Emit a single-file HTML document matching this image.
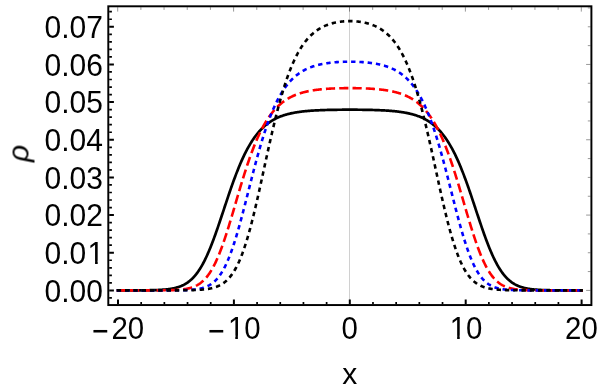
<!DOCTYPE html>
<html><head><meta charset="utf-8"><title>plot</title>
<style>html,body{margin:0;padding:0;background:#fff}svg{display:block}text{font-family:"Liberation Sans",sans-serif;font-size:30px;fill:#000}</style></head>
<body>
<svg width="600" height="392" viewBox="0 0 600 392">
<rect width="600" height="392" fill="#fff"/>
<line x1="349.50" y1="6.30" x2="349.50" y2="305.05" stroke="#b0b0b0" stroke-width="0.6"/>
<g fill="none" stroke-linejoin="round">
<path d="M116.70 290.39 L118.00 290.39 L118.58 290.39 L119.16 290.39 L119.74 290.39 L120.32 290.39 L120.90 290.39 L121.48 290.39 L122.06 290.39 L122.64 290.39 L123.22 290.39 L123.80 290.39 L124.37 290.39 L124.95 290.39 L125.53 290.39 L126.11 290.39 L126.69 290.39 L127.27 290.38 L127.85 290.38 L128.43 290.38 L129.01 290.38 L129.59 290.38 L130.17 290.38 L130.75 290.38 L131.33 290.38 L131.91 290.37 L132.49 290.37 L133.07 290.37 L133.65 290.37 L134.23 290.37 L134.81 290.37 L135.39 290.36 L135.96 290.36 L136.54 290.36 L137.12 290.36 L137.70 290.35 L138.28 290.35 L138.86 290.35 L139.44 290.34 L140.02 290.34 L140.60 290.33 L141.18 290.33 L141.76 290.33 L142.34 290.32 L142.92 290.32 L143.50 290.31 L144.08 290.30 L144.66 290.30 L145.24 290.29 L145.82 290.28 L146.40 290.28 L146.98 290.27 L147.55 290.26 L148.13 290.25 L148.71 290.24 L149.29 290.23 L149.87 290.22 L150.45 290.21 L151.03 290.20 L151.61 290.19 L152.19 290.17 L152.77 290.16 L153.35 290.14 L153.93 290.12 L154.51 290.11 L155.09 290.09 L155.67 290.07 L156.25 290.05 L156.83 290.03 L157.41 290.00 L157.99 289.98 L158.57 289.95 L159.14 289.92 L159.72 289.89 L160.30 289.86 L160.88 289.83 L161.46 289.79 L162.04 289.75 L162.62 289.71 L163.20 289.67 L163.78 289.62 L164.36 289.57 L164.94 289.52 L165.52 289.47 L166.10 289.41 L166.68 289.35 L167.26 289.29 L167.84 289.22 L168.42 289.15 L169.00 289.07 L169.58 288.99 L170.16 288.91 L170.73 288.82 L171.31 288.72 L171.89 288.62 L172.47 288.51 L173.05 288.40 L173.63 288.28 L174.21 288.16 L174.79 288.02 L175.37 287.89 L175.95 287.74 L176.53 287.58 L177.11 287.42 L177.69 287.25 L178.27 287.07 L178.85 286.88 L179.43 286.67 L180.01 286.46 L180.59 286.24 L181.17 286.01 L181.75 285.76 L182.32 285.50 L182.90 285.23 L183.48 284.95 L184.06 284.65 L184.64 284.34 L185.22 284.01 L185.80 283.66 L186.38 283.30 L186.96 282.93 L187.54 282.53 L188.12 282.12 L188.70 281.69 L189.28 281.24 L189.86 280.77 L190.44 280.28 L191.02 279.77 L191.60 279.24 L192.18 278.68 L192.76 278.10 L193.34 277.50 L193.91 276.88 L194.49 276.23 L195.07 275.55 L195.65 274.85 L196.23 274.13 L196.81 273.37 L197.39 272.59 L197.97 271.79 L198.55 270.95 L199.13 270.09 L199.71 269.20 L200.29 268.28 L200.87 267.33 L201.45 266.35 L202.03 265.34 L202.61 264.31 L203.19 263.24 L203.77 262.14 L204.35 261.02 L204.93 259.86 L205.50 258.68 L206.08 257.46 L206.66 256.22 L207.24 254.95 L207.82 253.65 L208.40 252.32 L208.98 250.96 L209.56 249.58 L210.14 248.17 L210.72 246.74 L211.30 245.28 L211.88 243.79 L212.46 242.29 L213.04 240.76 L213.62 239.21 L214.20 237.63 L214.78 236.04 L215.36 234.43 L215.94 232.80 L216.52 231.16 L217.09 229.49 L217.67 227.82 L218.25 226.13 L218.83 224.43 L219.41 222.72 L219.99 221.00 L220.57 219.27 L221.15 217.53 L221.73 215.79 L222.31 214.05 L222.89 212.30 L223.47 210.55 L224.05 208.80 L224.63 207.04 L225.21 205.30 L225.79 203.55 L226.37 201.81 L226.95 200.07 L227.53 198.34 L228.11 196.62 L228.68 194.91 L229.26 193.20 L229.84 191.51 L230.42 189.83 L231.00 188.16 L231.58 186.51 L232.16 184.87 L232.74 183.25 L233.32 181.64 L233.90 180.05 L234.48 178.47 L235.06 176.92 L235.64 175.38 L236.22 173.87 L236.80 172.37 L237.38 170.89 L237.96 169.44 L238.54 168.00 L239.12 166.59 L239.69 165.20 L240.27 163.83 L240.85 162.49 L241.43 161.16 L242.01 159.86 L242.59 158.59 L243.17 157.33 L243.75 156.10 L244.33 154.89 L244.91 153.71 L245.49 152.55 L246.07 151.41 L246.65 150.30 L247.23 149.21 L247.81 148.14 L248.39 147.09 L248.97 146.07 L249.55 145.07 L250.13 144.09 L250.71 143.13 L251.29 142.20 L251.86 141.29 L252.44 140.39 L253.02 139.52 L253.60 138.67 L254.18 137.85 L254.76 137.04 L255.34 136.25 L255.92 135.48 L256.50 134.73 L257.08 134.00 L257.66 133.28 L258.24 132.59 L258.82 131.91 L259.40 131.26 L259.98 130.61 L260.56 129.99 L261.14 129.38 L261.72 128.79 L262.30 128.22 L262.88 127.66 L263.45 127.11 L264.03 126.58 L264.61 126.07 L265.19 125.57 L265.77 125.08 L266.35 124.61 L266.93 124.15 L267.51 123.70 L268.09 123.27 L268.67 122.84 L269.25 122.43 L269.83 122.04 L270.41 121.65 L270.99 121.28 L271.57 120.91 L272.15 120.56 L272.73 120.21 L273.31 119.88 L273.89 119.56 L274.47 119.24 L275.04 118.94 L275.62 118.64 L276.20 118.36 L276.78 118.08 L277.36 117.81 L277.94 117.55 L278.52 117.29 L279.10 117.05 L279.68 116.81 L280.26 116.58 L280.84 116.35 L281.42 116.14 L282.00 115.92 L282.58 115.72 L283.16 115.52 L283.74 115.33 L284.32 115.14 L284.90 114.96 L285.48 114.79 L286.06 114.62 L286.63 114.45 L287.21 114.29 L287.79 114.14 L288.37 113.99 L288.95 113.85 L289.53 113.71 L290.11 113.57 L290.69 113.44 L291.27 113.31 L291.85 113.19 L292.43 113.07 L293.01 112.95 L293.59 112.84 L294.17 112.73 L294.75 112.63 L295.33 112.52 L295.91 112.42 L296.49 112.33 L297.07 112.24 L297.64 112.15 L298.22 112.06 L298.80 111.98 L299.38 111.89 L299.96 111.81 L300.54 111.74 L301.12 111.66 L301.70 111.59 L302.28 111.52 L302.86 111.46 L303.44 111.39 L304.02 111.33 L304.60 111.27 L305.18 111.21 L305.76 111.15 L306.34 111.10 L306.92 111.04 L307.50 110.99 L308.08 110.94 L308.66 110.89 L309.24 110.85 L309.81 110.80 L310.39 110.76 L310.97 110.72 L311.55 110.68 L312.13 110.64 L312.71 110.60 L313.29 110.56 L313.87 110.52 L314.45 110.49 L315.03 110.46 L315.61 110.42 L316.19 110.39 L316.77 110.36 L317.35 110.33 L317.93 110.31 L318.51 110.28 L319.09 110.25 L319.67 110.23 L320.25 110.20 L320.82 110.18 L321.40 110.15 L321.98 110.13 L322.56 110.11 L323.14 110.09 L323.72 110.07 L324.30 110.05 L324.88 110.03 L325.46 110.02 L326.04 110.00 L326.62 109.98 L327.20 109.97 L327.78 109.95 L328.36 109.94 L328.94 109.92 L329.52 109.91 L330.10 109.89 L330.68 109.88 L331.26 109.87 L331.84 109.86 L332.42 109.85 L332.99 109.84 L333.57 109.83 L334.15 109.82 L334.73 109.81 L335.31 109.80 L335.89 109.79 L336.47 109.78 L337.05 109.78 L337.63 109.77 L338.21 109.76 L338.79 109.75 L339.37 109.75 L339.95 109.74 L340.53 109.74 L341.11 109.73 L341.69 109.73 L342.27 109.72 L342.85 109.72 L343.43 109.72 L344.00 109.71 L344.58 109.71 L345.16 109.71 L345.74 109.70 L346.32 109.70 L346.90 109.70 L347.48 109.70 L348.06 109.70 L348.64 109.70 L349.22 109.70 L349.80 109.70 L350.38 109.70 L350.96 109.70 L351.54 109.70 L352.12 109.70 L352.70 109.70 L353.28 109.70 L353.86 109.70 L354.44 109.71 L355.02 109.71 L355.60 109.71 L356.17 109.72 L356.75 109.72 L357.33 109.72 L357.91 109.73 L358.49 109.73 L359.07 109.74 L359.65 109.74 L360.23 109.75 L360.81 109.75 L361.39 109.76 L361.97 109.77 L362.55 109.78 L363.13 109.78 L363.71 109.79 L364.29 109.80 L364.87 109.81 L365.45 109.82 L366.03 109.83 L366.61 109.84 L367.19 109.85 L367.76 109.86 L368.34 109.87 L368.92 109.88 L369.50 109.89 L370.08 109.91 L370.66 109.92 L371.24 109.94 L371.82 109.95 L372.40 109.97 L372.98 109.98 L373.56 110.00 L374.14 110.02 L374.72 110.03 L375.30 110.05 L375.88 110.07 L376.46 110.09 L377.04 110.11 L377.62 110.13 L378.20 110.15 L378.78 110.18 L379.35 110.20 L379.93 110.23 L380.51 110.25 L381.09 110.28 L381.67 110.31 L382.25 110.33 L382.83 110.36 L383.41 110.39 L383.99 110.42 L384.57 110.46 L385.15 110.49 L385.73 110.52 L386.31 110.56 L386.89 110.60 L387.47 110.64 L388.05 110.68 L388.63 110.72 L389.21 110.76 L389.79 110.80 L390.37 110.85 L390.94 110.89 L391.52 110.94 L392.10 110.99 L392.68 111.04 L393.26 111.10 L393.84 111.15 L394.42 111.21 L395.00 111.27 L395.58 111.33 L396.16 111.39 L396.74 111.46 L397.32 111.52 L397.90 111.59 L398.48 111.66 L399.06 111.74 L399.64 111.81 L400.22 111.89 L400.80 111.98 L401.38 112.06 L401.96 112.15 L402.53 112.24 L403.11 112.33 L403.69 112.42 L404.27 112.52 L404.85 112.63 L405.43 112.73 L406.01 112.84 L406.59 112.95 L407.17 113.07 L407.75 113.19 L408.33 113.31 L408.91 113.44 L409.49 113.57 L410.07 113.71 L410.65 113.85 L411.23 113.99 L411.81 114.14 L412.39 114.29 L412.97 114.45 L413.55 114.62 L414.12 114.79 L414.70 114.96 L415.28 115.14 L415.86 115.33 L416.44 115.52 L417.02 115.72 L417.60 115.92 L418.18 116.14 L418.76 116.35 L419.34 116.58 L419.92 116.81 L420.50 117.05 L421.08 117.29 L421.66 117.55 L422.24 117.81 L422.82 118.08 L423.40 118.36 L423.98 118.64 L424.56 118.94 L425.13 119.24 L425.71 119.56 L426.29 119.88 L426.87 120.21 L427.45 120.56 L428.03 120.91 L428.61 121.28 L429.19 121.65 L429.77 122.04 L430.35 122.43 L430.93 122.84 L431.51 123.27 L432.09 123.70 L432.67 124.15 L433.25 124.61 L433.83 125.08 L434.41 125.57 L434.99 126.07 L435.57 126.58 L436.15 127.11 L436.73 127.66 L437.30 128.22 L437.88 128.79 L438.46 129.38 L439.04 129.99 L439.62 130.61 L440.20 131.26 L440.78 131.91 L441.36 132.59 L441.94 133.28 L442.52 134.00 L443.10 134.73 L443.68 135.48 L444.26 136.25 L444.84 137.04 L445.42 137.85 L446.00 138.67 L446.58 139.52 L447.16 140.39 L447.74 141.29 L448.31 142.20 L448.89 143.13 L449.47 144.09 L450.05 145.07 L450.63 146.07 L451.21 147.09 L451.79 148.14 L452.37 149.21 L452.95 150.30 L453.53 151.41 L454.11 152.55 L454.69 153.71 L455.27 154.89 L455.85 156.10 L456.43 157.33 L457.01 158.59 L457.59 159.86 L458.17 161.16 L458.75 162.49 L459.33 163.83 L459.91 165.20 L460.48 166.59 L461.06 168.00 L461.64 169.44 L462.22 170.89 L462.80 172.37 L463.38 173.87 L463.96 175.38 L464.54 176.92 L465.12 178.47 L465.70 180.05 L466.28 181.64 L466.86 183.25 L467.44 184.87 L468.02 186.51 L468.60 188.16 L469.18 189.83 L469.76 191.51 L470.34 193.20 L470.92 194.91 L471.50 196.62 L472.07 198.34 L472.65 200.07 L473.23 201.81 L473.81 203.55 L474.39 205.30 L474.97 207.04 L475.55 208.80 L476.13 210.55 L476.71 212.30 L477.29 214.05 L477.87 215.79 L478.45 217.53 L479.03 219.27 L479.61 221.00 L480.19 222.72 L480.77 224.43 L481.35 226.13 L481.93 227.82 L482.51 229.49 L483.09 231.16 L483.66 232.80 L484.24 234.43 L484.82 236.04 L485.40 237.63 L485.98 239.21 L486.56 240.76 L487.14 242.29 L487.72 243.79 L488.30 245.28 L488.88 246.74 L489.46 248.17 L490.04 249.58 L490.62 250.96 L491.20 252.32 L491.78 253.65 L492.36 254.95 L492.94 256.22 L493.52 257.46 L494.10 258.68 L494.68 259.86 L495.25 261.02 L495.83 262.14 L496.41 263.24 L496.99 264.31 L497.57 265.34 L498.15 266.35 L498.73 267.33 L499.31 268.28 L499.89 269.20 L500.47 270.09 L501.05 270.95 L501.63 271.79 L502.21 272.59 L502.79 273.37 L503.37 274.13 L503.95 274.85 L504.53 275.55 L505.11 276.23 L505.69 276.88 L506.26 277.50 L506.84 278.10 L507.42 278.68 L508.00 279.24 L508.58 279.77 L509.16 280.28 L509.74 280.77 L510.32 281.24 L510.90 281.69 L511.48 282.12 L512.06 282.53 L512.64 282.93 L513.22 283.30 L513.80 283.66 L514.38 284.01 L514.96 284.34 L515.54 284.65 L516.12 284.95 L516.70 285.23 L517.28 285.50 L517.86 285.76 L518.43 286.01 L519.01 286.24 L519.59 286.46 L520.17 286.67 L520.75 286.88 L521.33 287.07 L521.91 287.25 L522.49 287.42 L523.07 287.58 L523.65 287.74 L524.23 287.89 L524.81 288.02 L525.39 288.16 L525.97 288.28 L526.55 288.40 L527.13 288.51 L527.71 288.62 L528.29 288.72 L528.87 288.82 L529.45 288.91 L530.02 288.99 L530.60 289.07 L531.18 289.15 L531.76 289.22 L532.34 289.29 L532.92 289.35 L533.50 289.41 L534.08 289.47 L534.66 289.52 L535.24 289.57 L535.82 289.62 L536.40 289.67 L536.98 289.71 L537.56 289.75 L538.14 289.79 L538.72 289.83 L539.30 289.86 L539.88 289.89 L540.46 289.92 L541.03 289.95 L541.61 289.98 L542.19 290.00 L542.77 290.03 L543.35 290.05 L543.93 290.07 L544.51 290.09 L545.09 290.11 L545.67 290.12 L546.25 290.14 L546.83 290.16 L547.41 290.17 L547.99 290.19 L548.57 290.20 L549.15 290.21 L549.73 290.22 L550.31 290.23 L550.89 290.24 L551.47 290.25 L552.05 290.26 L552.62 290.27 L553.20 290.28 L553.78 290.28 L554.36 290.29 L554.94 290.30 L555.52 290.30 L556.10 290.31 L556.68 290.32 L557.26 290.32 L557.84 290.33 L558.42 290.33 L559.00 290.33 L559.58 290.34 L560.16 290.34 L560.74 290.35 L561.32 290.35 L561.90 290.35 L562.48 290.36 L563.06 290.36 L563.64 290.36 L564.22 290.36 L564.79 290.37 L565.37 290.37 L565.95 290.37 L566.53 290.37 L567.11 290.37 L567.69 290.37 L568.27 290.38 L568.85 290.38 L569.43 290.38 L570.01 290.38 L570.59 290.38 L571.17 290.38 L571.75 290.38 L572.33 290.38 L572.91 290.39 L573.49 290.39 L574.07 290.39 L574.65 290.39 L575.23 290.39 L575.81 290.39 L576.38 290.39 L576.96 290.39 L577.54 290.39 L578.12 290.39 L578.70 290.39 L579.28 290.39 L579.86 290.39 L580.44 290.39 L581.02 290.39 L581.60 290.39 L582.90 290.39" stroke="#000" stroke-width="2.7"/>
<path d="M116.70 290.40 L118.00 290.40 L118.58 290.40 L119.16 290.40 L119.74 290.40 L120.32 290.40 L120.90 290.40 L121.48 290.40 L122.06 290.40 L122.64 290.40 L123.22 290.40 L123.80 290.40 L124.37 290.40 L124.95 290.40 L125.53 290.40 L126.11 290.40 L126.69 290.40 L127.27 290.40 L127.85 290.40 L128.43 290.40 L129.01 290.40 L129.59 290.40 L130.17 290.40 L130.75 290.40 L131.33 290.40 L131.91 290.40 L132.49 290.40 L133.07 290.40 L133.65 290.40 L134.23 290.40 L134.81 290.40 L135.39 290.40 L135.96 290.40 L136.54 290.40 L137.12 290.40 L137.70 290.40 L138.28 290.40 L138.86 290.40 L139.44 290.40 L140.02 290.40 L140.60 290.40 L141.18 290.40 L141.76 290.40 L142.34 290.40 L142.92 290.39 L143.50 290.39 L144.08 290.39 L144.66 290.39 L145.24 290.39 L145.82 290.39 L146.40 290.39 L146.98 290.39 L147.55 290.39 L148.13 290.39 L148.71 290.39 L149.29 290.39 L149.87 290.39 L150.45 290.39 L151.03 290.38 L151.61 290.38 L152.19 290.38 L152.77 290.38 L153.35 290.38 L153.93 290.38 L154.51 290.38 L155.09 290.37 L155.67 290.37 L156.25 290.37 L156.83 290.37 L157.41 290.36 L157.99 290.36 L158.57 290.36 L159.14 290.35 L159.72 290.35 L160.30 290.35 L160.88 290.34 L161.46 290.34 L162.04 290.33 L162.62 290.33 L163.20 290.32 L163.78 290.31 L164.36 290.31 L164.94 290.30 L165.52 290.29 L166.10 290.28 L166.68 290.27 L167.26 290.26 L167.84 290.25 L168.42 290.24 L169.00 290.23 L169.58 290.21 L170.16 290.20 L170.73 290.18 L171.31 290.17 L171.89 290.15 L172.47 290.13 L173.05 290.11 L173.63 290.09 L174.21 290.06 L174.79 290.04 L175.37 290.01 L175.95 289.98 L176.53 289.95 L177.11 289.91 L177.69 289.87 L178.27 289.83 L178.85 289.79 L179.43 289.74 L180.01 289.70 L180.59 289.64 L181.17 289.59 L181.75 289.53 L182.32 289.46 L182.90 289.39 L183.48 289.32 L184.06 289.24 L184.64 289.16 L185.22 289.07 L185.80 288.97 L186.38 288.87 L186.96 288.76 L187.54 288.64 L188.12 288.52 L188.70 288.38 L189.28 288.24 L189.86 288.09 L190.44 287.94 L191.02 287.77 L191.60 287.59 L192.18 287.40 L192.76 287.19 L193.34 286.98 L193.91 286.75 L194.49 286.51 L195.07 286.26 L195.65 285.99 L196.23 285.70 L196.81 285.40 L197.39 285.08 L197.97 284.74 L198.55 284.39 L199.13 284.02 L199.71 283.62 L200.29 283.21 L200.87 282.77 L201.45 282.32 L202.03 281.84 L202.61 281.33 L203.19 280.80 L203.77 280.25 L204.35 279.67 L204.93 279.06 L205.50 278.43 L206.08 277.76 L206.66 277.07 L207.24 276.35 L207.82 275.60 L208.40 274.82 L208.98 274.00 L209.56 273.16 L210.14 272.28 L210.72 271.36 L211.30 270.42 L211.88 269.44 L212.46 268.42 L213.04 267.37 L213.62 266.29 L214.20 265.17 L214.78 264.01 L215.36 262.82 L215.94 261.59 L216.52 260.33 L217.09 259.04 L217.67 257.70 L218.25 256.34 L218.83 254.94 L219.41 253.50 L219.99 252.03 L220.57 250.53 L221.15 249.00 L221.73 247.44 L222.31 245.84 L222.89 244.21 L223.47 242.56 L224.05 240.88 L224.63 239.16 L225.21 237.43 L225.79 235.67 L226.37 233.88 L226.95 232.07 L227.53 230.24 L228.11 228.39 L228.68 226.53 L229.26 224.64 L229.84 222.74 L230.42 220.82 L231.00 218.89 L231.58 216.95 L232.16 215.00 L232.74 213.04 L233.32 211.07 L233.90 209.10 L234.48 207.12 L235.06 205.14 L235.64 203.16 L236.22 201.18 L236.80 199.20 L237.38 197.22 L237.96 195.25 L238.54 193.28 L239.12 191.32 L239.69 189.36 L240.27 187.42 L240.85 185.49 L241.43 183.57 L242.01 181.66 L242.59 179.76 L243.17 177.88 L243.75 176.02 L244.33 174.17 L244.91 172.34 L245.49 170.53 L246.07 168.73 L246.65 166.96 L247.23 165.21 L247.81 163.48 L248.39 161.77 L248.97 160.08 L249.55 158.42 L250.13 156.78 L250.71 155.16 L251.29 153.57 L251.86 152.00 L252.44 150.46 L253.02 148.94 L253.60 147.45 L254.18 145.98 L254.76 144.54 L255.34 143.12 L255.92 141.73 L256.50 140.37 L257.08 139.03 L257.66 137.72 L258.24 136.43 L258.82 135.17 L259.40 133.93 L259.98 132.72 L260.56 131.53 L261.14 130.37 L261.72 129.24 L262.30 128.13 L262.88 127.04 L263.45 125.98 L264.03 124.94 L264.61 123.92 L265.19 122.93 L265.77 121.96 L266.35 121.01 L266.93 120.09 L267.51 119.18 L268.09 118.30 L268.67 117.44 L269.25 116.60 L269.83 115.79 L270.41 114.99 L270.99 114.21 L271.57 113.45 L272.15 112.71 L272.73 111.99 L273.31 111.29 L273.89 110.61 L274.47 109.94 L275.04 109.30 L275.62 108.66 L276.20 108.05 L276.78 107.45 L277.36 106.87 L277.94 106.30 L278.52 105.75 L279.10 105.22 L279.68 104.69 L280.26 104.19 L280.84 103.69 L281.42 103.21 L282.00 102.75 L282.58 102.29 L283.16 101.85 L283.74 101.42 L284.32 101.01 L284.90 100.60 L285.48 100.21 L286.06 99.83 L286.63 99.46 L287.21 99.09 L287.79 98.74 L288.37 98.40 L288.95 98.07 L289.53 97.75 L290.11 97.44 L290.69 97.14 L291.27 96.84 L291.85 96.56 L292.43 96.28 L293.01 96.01 L293.59 95.75 L294.17 95.50 L294.75 95.25 L295.33 95.01 L295.91 94.78 L296.49 94.56 L297.07 94.34 L297.64 94.13 L298.22 93.92 L298.80 93.72 L299.38 93.53 L299.96 93.34 L300.54 93.16 L301.12 92.98 L301.70 92.81 L302.28 92.65 L302.86 92.49 L303.44 92.33 L304.02 92.18 L304.60 92.03 L305.18 91.89 L305.76 91.75 L306.34 91.62 L306.92 91.49 L307.50 91.37 L308.08 91.24 L308.66 91.13 L309.24 91.01 L309.81 90.90 L310.39 90.79 L310.97 90.69 L311.55 90.59 L312.13 90.49 L312.71 90.40 L313.29 90.31 L313.87 90.22 L314.45 90.13 L315.03 90.05 L315.61 89.97 L316.19 89.89 L316.77 89.82 L317.35 89.74 L317.93 89.67 L318.51 89.60 L319.09 89.54 L319.67 89.47 L320.25 89.41 L320.82 89.35 L321.40 89.30 L321.98 89.24 L322.56 89.19 L323.14 89.13 L323.72 89.08 L324.30 89.04 L324.88 88.99 L325.46 88.94 L326.04 88.90 L326.62 88.86 L327.20 88.82 L327.78 88.78 L328.36 88.74 L328.94 88.71 L329.52 88.67 L330.10 88.64 L330.68 88.60 L331.26 88.57 L331.84 88.54 L332.42 88.52 L332.99 88.49 L333.57 88.46 L334.15 88.44 L334.73 88.41 L335.31 88.39 L335.89 88.37 L336.47 88.35 L337.05 88.33 L337.63 88.31 L338.21 88.29 L338.79 88.28 L339.37 88.26 L339.95 88.25 L340.53 88.23 L341.11 88.22 L341.69 88.21 L342.27 88.20 L342.85 88.19 L343.43 88.18 L344.00 88.17 L344.58 88.16 L345.16 88.15 L345.74 88.15 L346.32 88.14 L346.90 88.14 L347.48 88.13 L348.06 88.13 L348.64 88.13 L349.22 88.13 L349.80 88.13 L350.38 88.13 L350.96 88.13 L351.54 88.13 L352.12 88.13 L352.70 88.14 L353.28 88.14 L353.86 88.15 L354.44 88.15 L355.02 88.16 L355.60 88.17 L356.17 88.18 L356.75 88.19 L357.33 88.20 L357.91 88.21 L358.49 88.22 L359.07 88.23 L359.65 88.25 L360.23 88.26 L360.81 88.28 L361.39 88.29 L361.97 88.31 L362.55 88.33 L363.13 88.35 L363.71 88.37 L364.29 88.39 L364.87 88.41 L365.45 88.44 L366.03 88.46 L366.61 88.49 L367.19 88.52 L367.76 88.54 L368.34 88.57 L368.92 88.60 L369.50 88.64 L370.08 88.67 L370.66 88.71 L371.24 88.74 L371.82 88.78 L372.40 88.82 L372.98 88.86 L373.56 88.90 L374.14 88.94 L374.72 88.99 L375.30 89.04 L375.88 89.08 L376.46 89.13 L377.04 89.19 L377.62 89.24 L378.20 89.30 L378.78 89.35 L379.35 89.41 L379.93 89.47 L380.51 89.54 L381.09 89.60 L381.67 89.67 L382.25 89.74 L382.83 89.82 L383.41 89.89 L383.99 89.97 L384.57 90.05 L385.15 90.13 L385.73 90.22 L386.31 90.31 L386.89 90.40 L387.47 90.49 L388.05 90.59 L388.63 90.69 L389.21 90.79 L389.79 90.90 L390.37 91.01 L390.94 91.13 L391.52 91.24 L392.10 91.37 L392.68 91.49 L393.26 91.62 L393.84 91.75 L394.42 91.89 L395.00 92.03 L395.58 92.18 L396.16 92.33 L396.74 92.49 L397.32 92.65 L397.90 92.81 L398.48 92.98 L399.06 93.16 L399.64 93.34 L400.22 93.53 L400.80 93.72 L401.38 93.92 L401.96 94.13 L402.53 94.34 L403.11 94.56 L403.69 94.78 L404.27 95.01 L404.85 95.25 L405.43 95.50 L406.01 95.75 L406.59 96.01 L407.17 96.28 L407.75 96.56 L408.33 96.84 L408.91 97.14 L409.49 97.44 L410.07 97.75 L410.65 98.07 L411.23 98.40 L411.81 98.74 L412.39 99.09 L412.97 99.46 L413.55 99.83 L414.12 100.21 L414.70 100.60 L415.28 101.01 L415.86 101.42 L416.44 101.85 L417.02 102.29 L417.60 102.75 L418.18 103.21 L418.76 103.69 L419.34 104.19 L419.92 104.69 L420.50 105.22 L421.08 105.75 L421.66 106.30 L422.24 106.87 L422.82 107.45 L423.40 108.05 L423.98 108.66 L424.56 109.30 L425.13 109.94 L425.71 110.61 L426.29 111.29 L426.87 111.99 L427.45 112.71 L428.03 113.45 L428.61 114.21 L429.19 114.99 L429.77 115.79 L430.35 116.60 L430.93 117.44 L431.51 118.30 L432.09 119.18 L432.67 120.09 L433.25 121.01 L433.83 121.96 L434.41 122.93 L434.99 123.92 L435.57 124.94 L436.15 125.98 L436.73 127.04 L437.30 128.13 L437.88 129.24 L438.46 130.37 L439.04 131.53 L439.62 132.72 L440.20 133.93 L440.78 135.17 L441.36 136.43 L441.94 137.72 L442.52 139.03 L443.10 140.37 L443.68 141.73 L444.26 143.12 L444.84 144.54 L445.42 145.98 L446.00 147.45 L446.58 148.94 L447.16 150.46 L447.74 152.00 L448.31 153.57 L448.89 155.16 L449.47 156.78 L450.05 158.42 L450.63 160.08 L451.21 161.77 L451.79 163.48 L452.37 165.21 L452.95 166.96 L453.53 168.73 L454.11 170.53 L454.69 172.34 L455.27 174.17 L455.85 176.02 L456.43 177.88 L457.01 179.76 L457.59 181.66 L458.17 183.57 L458.75 185.49 L459.33 187.42 L459.91 189.36 L460.48 191.32 L461.06 193.28 L461.64 195.25 L462.22 197.22 L462.80 199.20 L463.38 201.18 L463.96 203.16 L464.54 205.14 L465.12 207.12 L465.70 209.10 L466.28 211.07 L466.86 213.04 L467.44 215.00 L468.02 216.95 L468.60 218.89 L469.18 220.82 L469.76 222.74 L470.34 224.64 L470.92 226.53 L471.50 228.39 L472.07 230.24 L472.65 232.07 L473.23 233.88 L473.81 235.67 L474.39 237.43 L474.97 239.16 L475.55 240.88 L476.13 242.56 L476.71 244.21 L477.29 245.84 L477.87 247.44 L478.45 249.00 L479.03 250.53 L479.61 252.03 L480.19 253.50 L480.77 254.94 L481.35 256.34 L481.93 257.70 L482.51 259.04 L483.09 260.33 L483.66 261.59 L484.24 262.82 L484.82 264.01 L485.40 265.17 L485.98 266.29 L486.56 267.37 L487.14 268.42 L487.72 269.44 L488.30 270.42 L488.88 271.36 L489.46 272.28 L490.04 273.16 L490.62 274.00 L491.20 274.82 L491.78 275.60 L492.36 276.35 L492.94 277.07 L493.52 277.76 L494.10 278.43 L494.68 279.06 L495.25 279.67 L495.83 280.25 L496.41 280.80 L496.99 281.33 L497.57 281.84 L498.15 282.32 L498.73 282.77 L499.31 283.21 L499.89 283.62 L500.47 284.02 L501.05 284.39 L501.63 284.74 L502.21 285.08 L502.79 285.40 L503.37 285.70 L503.95 285.99 L504.53 286.26 L505.11 286.51 L505.69 286.75 L506.26 286.98 L506.84 287.19 L507.42 287.40 L508.00 287.59 L508.58 287.77 L509.16 287.94 L509.74 288.09 L510.32 288.24 L510.90 288.38 L511.48 288.52 L512.06 288.64 L512.64 288.76 L513.22 288.87 L513.80 288.97 L514.38 289.07 L514.96 289.16 L515.54 289.24 L516.12 289.32 L516.70 289.39 L517.28 289.46 L517.86 289.53 L518.43 289.59 L519.01 289.64 L519.59 289.70 L520.17 289.74 L520.75 289.79 L521.33 289.83 L521.91 289.87 L522.49 289.91 L523.07 289.95 L523.65 289.98 L524.23 290.01 L524.81 290.04 L525.39 290.06 L525.97 290.09 L526.55 290.11 L527.13 290.13 L527.71 290.15 L528.29 290.17 L528.87 290.18 L529.45 290.20 L530.02 290.21 L530.60 290.23 L531.18 290.24 L531.76 290.25 L532.34 290.26 L532.92 290.27 L533.50 290.28 L534.08 290.29 L534.66 290.30 L535.24 290.31 L535.82 290.31 L536.40 290.32 L536.98 290.33 L537.56 290.33 L538.14 290.34 L538.72 290.34 L539.30 290.35 L539.88 290.35 L540.46 290.35 L541.03 290.36 L541.61 290.36 L542.19 290.36 L542.77 290.37 L543.35 290.37 L543.93 290.37 L544.51 290.37 L545.09 290.38 L545.67 290.38 L546.25 290.38 L546.83 290.38 L547.41 290.38 L547.99 290.38 L548.57 290.38 L549.15 290.39 L549.73 290.39 L550.31 290.39 L550.89 290.39 L551.47 290.39 L552.05 290.39 L552.62 290.39 L553.20 290.39 L553.78 290.39 L554.36 290.39 L554.94 290.39 L555.52 290.39 L556.10 290.39 L556.68 290.39 L557.26 290.40 L557.84 290.40 L558.42 290.40 L559.00 290.40 L559.58 290.40 L560.16 290.40 L560.74 290.40 L561.32 290.40 L561.90 290.40 L562.48 290.40 L563.06 290.40 L563.64 290.40 L564.22 290.40 L564.79 290.40 L565.37 290.40 L565.95 290.40 L566.53 290.40 L567.11 290.40 L567.69 290.40 L568.27 290.40 L568.85 290.40 L569.43 290.40 L570.01 290.40 L570.59 290.40 L571.17 290.40 L571.75 290.40 L572.33 290.40 L572.91 290.40 L573.49 290.40 L574.07 290.40 L574.65 290.40 L575.23 290.40 L575.81 290.40 L576.38 290.40 L576.96 290.40 L577.54 290.40 L578.12 290.40 L578.70 290.40 L579.28 290.40 L579.86 290.40 L580.44 290.40 L581.02 290.40 L581.60 290.40 L582.90 290.40" stroke="#f00" stroke-width="2.6" stroke-dasharray="9.2 4.1"/>
<path d="M116.70 290.40 L118.00 290.40 L118.58 290.40 L119.16 290.40 L119.74 290.40 L120.32 290.40 L120.90 290.40 L121.48 290.40 L122.06 290.40 L122.64 290.40 L123.22 290.40 L123.80 290.40 L124.37 290.40 L124.95 290.40 L125.53 290.40 L126.11 290.40 L126.69 290.40 L127.27 290.40 L127.85 290.40 L128.43 290.40 L129.01 290.40 L129.59 290.40 L130.17 290.40 L130.75 290.40 L131.33 290.40 L131.91 290.40 L132.49 290.40 L133.07 290.40 L133.65 290.40 L134.23 290.40 L134.81 290.40 L135.39 290.40 L135.96 290.40 L136.54 290.40 L137.12 290.40 L137.70 290.40 L138.28 290.40 L138.86 290.40 L139.44 290.40 L140.02 290.40 L140.60 290.40 L141.18 290.40 L141.76 290.40 L142.34 290.40 L142.92 290.40 L143.50 290.40 L144.08 290.40 L144.66 290.40 L145.24 290.40 L145.82 290.40 L146.40 290.40 L146.98 290.40 L147.55 290.40 L148.13 290.40 L148.71 290.40 L149.29 290.40 L149.87 290.40 L150.45 290.40 L151.03 290.40 L151.61 290.40 L152.19 290.40 L152.77 290.40 L153.35 290.40 L153.93 290.40 L154.51 290.40 L155.09 290.40 L155.67 290.40 L156.25 290.39 L156.83 290.39 L157.41 290.39 L157.99 290.39 L158.57 290.39 L159.14 290.39 L159.72 290.39 L160.30 290.39 L160.88 290.39 L161.46 290.39 L162.04 290.39 L162.62 290.39 L163.20 290.39 L163.78 290.39 L164.36 290.38 L164.94 290.38 L165.52 290.38 L166.10 290.38 L166.68 290.38 L167.26 290.38 L167.84 290.37 L168.42 290.37 L169.00 290.37 L169.58 290.37 L170.16 290.37 L170.73 290.36 L171.31 290.36 L171.89 290.36 L172.47 290.35 L173.05 290.35 L173.63 290.34 L174.21 290.34 L174.79 290.33 L175.37 290.33 L175.95 290.32 L176.53 290.32 L177.11 290.31 L177.69 290.30 L178.27 290.29 L178.85 290.29 L179.43 290.28 L180.01 290.27 L180.59 290.26 L181.17 290.24 L181.75 290.23 L182.32 290.22 L182.90 290.20 L183.48 290.19 L184.06 290.17 L184.64 290.15 L185.22 290.13 L185.80 290.11 L186.38 290.09 L186.96 290.06 L187.54 290.04 L188.12 290.01 L188.70 289.98 L189.28 289.94 L189.86 289.91 L190.44 289.87 L191.02 289.83 L191.60 289.78 L192.18 289.74 L192.76 289.69 L193.34 289.63 L193.91 289.57 L194.49 289.51 L195.07 289.44 L195.65 289.37 L196.23 289.29 L196.81 289.21 L197.39 289.12 L197.97 289.03 L198.55 288.93 L199.13 288.82 L199.71 288.70 L200.29 288.58 L200.87 288.45 L201.45 288.31 L202.03 288.16 L202.61 288.00 L203.19 287.83 L203.77 287.65 L204.35 287.45 L204.93 287.25 L205.50 287.03 L206.08 286.80 L206.66 286.55 L207.24 286.29 L207.82 286.02 L208.40 285.72 L208.98 285.41 L209.56 285.08 L210.14 284.74 L210.72 284.37 L211.30 283.98 L211.88 283.57 L212.46 283.14 L213.04 282.69 L213.62 282.21 L214.20 281.70 L214.78 281.17 L215.36 280.62 L215.94 280.03 L216.52 279.41 L217.09 278.77 L217.67 278.10 L218.25 277.39 L218.83 276.65 L219.41 275.88 L219.99 275.07 L220.57 274.23 L221.15 273.35 L221.73 272.43 L222.31 271.48 L222.89 270.49 L223.47 269.46 L224.05 268.39 L224.63 267.28 L225.21 266.14 L225.79 264.95 L226.37 263.72 L226.95 262.45 L227.53 261.13 L228.11 259.78 L228.68 258.38 L229.26 256.95 L229.84 255.47 L230.42 253.95 L231.00 252.39 L231.58 250.79 L232.16 249.14 L232.74 247.46 L233.32 245.74 L233.90 243.98 L234.48 242.19 L235.06 240.36 L235.64 238.49 L236.22 236.59 L236.80 234.65 L237.38 232.68 L237.96 230.68 L238.54 228.66 L239.12 226.60 L239.69 224.52 L240.27 222.41 L240.85 220.27 L241.43 218.12 L242.01 215.94 L242.59 213.75 L243.17 211.54 L243.75 209.31 L244.33 207.07 L244.91 204.82 L245.49 202.55 L246.07 200.28 L246.65 198.00 L247.23 195.72 L247.81 193.43 L248.39 191.15 L248.97 188.86 L249.55 186.57 L250.13 184.29 L250.71 182.01 L251.29 179.74 L251.86 177.48 L252.44 175.23 L253.02 172.99 L253.60 170.76 L254.18 168.54 L254.76 166.34 L255.34 164.16 L255.92 162.00 L256.50 159.85 L257.08 157.73 L257.66 155.62 L258.24 153.54 L258.82 151.48 L259.40 149.45 L259.98 147.43 L260.56 145.45 L261.14 143.49 L261.72 141.56 L262.30 139.65 L262.88 137.77 L263.45 135.92 L264.03 134.10 L264.61 132.31 L265.19 130.55 L265.77 128.81 L266.35 127.11 L266.93 125.44 L267.51 123.80 L268.09 122.18 L268.67 120.60 L269.25 119.05 L269.83 117.53 L270.41 116.03 L270.99 114.57 L271.57 113.14 L272.15 111.74 L272.73 110.36 L273.31 109.02 L273.89 107.71 L274.47 106.42 L275.04 105.16 L275.62 103.94 L276.20 102.74 L276.78 101.56 L277.36 100.42 L277.94 99.30 L278.52 98.21 L279.10 97.14 L279.68 96.10 L280.26 95.09 L280.84 94.10 L281.42 93.14 L282.00 92.20 L282.58 91.28 L283.16 90.39 L283.74 89.52 L284.32 88.67 L284.90 87.84 L285.48 87.04 L286.06 86.26 L286.63 85.50 L287.21 84.75 L287.79 84.03 L288.37 83.33 L288.95 82.65 L289.53 81.98 L290.11 81.34 L290.69 80.71 L291.27 80.10 L291.85 79.50 L292.43 78.93 L293.01 78.37 L293.59 77.82 L294.17 77.29 L294.75 76.78 L295.33 76.28 L295.91 75.79 L296.49 75.32 L297.07 74.86 L297.64 74.42 L298.22 73.98 L298.80 73.56 L299.38 73.16 L299.96 72.76 L300.54 72.38 L301.12 72.01 L301.70 71.64 L302.28 71.29 L302.86 70.95 L303.44 70.62 L304.02 70.30 L304.60 69.99 L305.18 69.69 L305.76 69.40 L306.34 69.12 L306.92 68.84 L307.50 68.58 L308.08 68.32 L308.66 68.07 L309.24 67.83 L309.81 67.59 L310.39 67.37 L310.97 67.14 L311.55 66.93 L312.13 66.72 L312.71 66.52 L313.29 66.33 L313.87 66.14 L314.45 65.96 L315.03 65.78 L315.61 65.61 L316.19 65.45 L316.77 65.29 L317.35 65.13 L317.93 64.98 L318.51 64.84 L319.09 64.70 L319.67 64.56 L320.25 64.43 L320.82 64.31 L321.40 64.18 L321.98 64.06 L322.56 63.95 L323.14 63.84 L323.72 63.73 L324.30 63.63 L324.88 63.53 L325.46 63.44 L326.04 63.34 L326.62 63.25 L327.20 63.17 L327.78 63.09 L328.36 63.01 L328.94 62.93 L329.52 62.86 L330.10 62.78 L330.68 62.72 L331.26 62.65 L331.84 62.59 L332.42 62.53 L332.99 62.47 L333.57 62.41 L334.15 62.36 L334.73 62.31 L335.31 62.26 L335.89 62.22 L336.47 62.17 L337.05 62.13 L337.63 62.09 L338.21 62.06 L338.79 62.02 L339.37 61.99 L339.95 61.96 L340.53 61.93 L341.11 61.90 L341.69 61.87 L342.27 61.85 L342.85 61.83 L343.43 61.81 L344.00 61.79 L344.58 61.77 L345.16 61.76 L345.74 61.75 L346.32 61.73 L346.90 61.73 L347.48 61.72 L348.06 61.71 L348.64 61.71 L349.22 61.70 L349.80 61.70 L350.38 61.70 L350.96 61.71 L351.54 61.71 L352.12 61.72 L352.70 61.73 L353.28 61.73 L353.86 61.75 L354.44 61.76 L355.02 61.77 L355.60 61.79 L356.17 61.81 L356.75 61.83 L357.33 61.85 L357.91 61.87 L358.49 61.90 L359.07 61.93 L359.65 61.96 L360.23 61.99 L360.81 62.02 L361.39 62.06 L361.97 62.09 L362.55 62.13 L363.13 62.17 L363.71 62.22 L364.29 62.26 L364.87 62.31 L365.45 62.36 L366.03 62.41 L366.61 62.47 L367.19 62.53 L367.76 62.59 L368.34 62.65 L368.92 62.72 L369.50 62.78 L370.08 62.86 L370.66 62.93 L371.24 63.01 L371.82 63.09 L372.40 63.17 L372.98 63.25 L373.56 63.34 L374.14 63.44 L374.72 63.53 L375.30 63.63 L375.88 63.73 L376.46 63.84 L377.04 63.95 L377.62 64.06 L378.20 64.18 L378.78 64.31 L379.35 64.43 L379.93 64.56 L380.51 64.70 L381.09 64.84 L381.67 64.98 L382.25 65.13 L382.83 65.29 L383.41 65.45 L383.99 65.61 L384.57 65.78 L385.15 65.96 L385.73 66.14 L386.31 66.33 L386.89 66.52 L387.47 66.72 L388.05 66.93 L388.63 67.14 L389.21 67.37 L389.79 67.59 L390.37 67.83 L390.94 68.07 L391.52 68.32 L392.10 68.58 L392.68 68.84 L393.26 69.12 L393.84 69.40 L394.42 69.69 L395.00 69.99 L395.58 70.30 L396.16 70.62 L396.74 70.95 L397.32 71.29 L397.90 71.64 L398.48 72.01 L399.06 72.38 L399.64 72.76 L400.22 73.16 L400.80 73.56 L401.38 73.98 L401.96 74.42 L402.53 74.86 L403.11 75.32 L403.69 75.79 L404.27 76.28 L404.85 76.78 L405.43 77.29 L406.01 77.82 L406.59 78.37 L407.17 78.93 L407.75 79.50 L408.33 80.10 L408.91 80.71 L409.49 81.34 L410.07 81.98 L410.65 82.65 L411.23 83.33 L411.81 84.03 L412.39 84.75 L412.97 85.50 L413.55 86.26 L414.12 87.04 L414.70 87.84 L415.28 88.67 L415.86 89.52 L416.44 90.39 L417.02 91.28 L417.60 92.20 L418.18 93.14 L418.76 94.10 L419.34 95.09 L419.92 96.10 L420.50 97.14 L421.08 98.21 L421.66 99.30 L422.24 100.42 L422.82 101.56 L423.40 102.74 L423.98 103.94 L424.56 105.16 L425.13 106.42 L425.71 107.71 L426.29 109.02 L426.87 110.36 L427.45 111.74 L428.03 113.14 L428.61 114.57 L429.19 116.03 L429.77 117.53 L430.35 119.05 L430.93 120.60 L431.51 122.18 L432.09 123.80 L432.67 125.44 L433.25 127.11 L433.83 128.81 L434.41 130.55 L434.99 132.31 L435.57 134.10 L436.15 135.92 L436.73 137.77 L437.30 139.65 L437.88 141.56 L438.46 143.49 L439.04 145.45 L439.62 147.43 L440.20 149.45 L440.78 151.48 L441.36 153.54 L441.94 155.62 L442.52 157.73 L443.10 159.85 L443.68 162.00 L444.26 164.16 L444.84 166.34 L445.42 168.54 L446.00 170.76 L446.58 172.99 L447.16 175.23 L447.74 177.48 L448.31 179.74 L448.89 182.01 L449.47 184.29 L450.05 186.57 L450.63 188.86 L451.21 191.15 L451.79 193.43 L452.37 195.72 L452.95 198.00 L453.53 200.28 L454.11 202.55 L454.69 204.82 L455.27 207.07 L455.85 209.31 L456.43 211.54 L457.01 213.75 L457.59 215.94 L458.17 218.12 L458.75 220.27 L459.33 222.41 L459.91 224.52 L460.48 226.60 L461.06 228.66 L461.64 230.68 L462.22 232.68 L462.80 234.65 L463.38 236.59 L463.96 238.49 L464.54 240.36 L465.12 242.19 L465.70 243.98 L466.28 245.74 L466.86 247.46 L467.44 249.14 L468.02 250.79 L468.60 252.39 L469.18 253.95 L469.76 255.47 L470.34 256.95 L470.92 258.38 L471.50 259.78 L472.07 261.13 L472.65 262.45 L473.23 263.72 L473.81 264.95 L474.39 266.14 L474.97 267.28 L475.55 268.39 L476.13 269.46 L476.71 270.49 L477.29 271.48 L477.87 272.43 L478.45 273.35 L479.03 274.23 L479.61 275.07 L480.19 275.88 L480.77 276.65 L481.35 277.39 L481.93 278.10 L482.51 278.77 L483.09 279.41 L483.66 280.03 L484.24 280.62 L484.82 281.17 L485.40 281.70 L485.98 282.21 L486.56 282.69 L487.14 283.14 L487.72 283.57 L488.30 283.98 L488.88 284.37 L489.46 284.74 L490.04 285.08 L490.62 285.41 L491.20 285.72 L491.78 286.02 L492.36 286.29 L492.94 286.55 L493.52 286.80 L494.10 287.03 L494.68 287.25 L495.25 287.45 L495.83 287.65 L496.41 287.83 L496.99 288.00 L497.57 288.16 L498.15 288.31 L498.73 288.45 L499.31 288.58 L499.89 288.70 L500.47 288.82 L501.05 288.93 L501.63 289.03 L502.21 289.12 L502.79 289.21 L503.37 289.29 L503.95 289.37 L504.53 289.44 L505.11 289.51 L505.69 289.57 L506.26 289.63 L506.84 289.69 L507.42 289.74 L508.00 289.78 L508.58 289.83 L509.16 289.87 L509.74 289.91 L510.32 289.94 L510.90 289.98 L511.48 290.01 L512.06 290.04 L512.64 290.06 L513.22 290.09 L513.80 290.11 L514.38 290.13 L514.96 290.15 L515.54 290.17 L516.12 290.19 L516.70 290.20 L517.28 290.22 L517.86 290.23 L518.43 290.24 L519.01 290.26 L519.59 290.27 L520.17 290.28 L520.75 290.29 L521.33 290.29 L521.91 290.30 L522.49 290.31 L523.07 290.32 L523.65 290.32 L524.23 290.33 L524.81 290.33 L525.39 290.34 L525.97 290.34 L526.55 290.35 L527.13 290.35 L527.71 290.36 L528.29 290.36 L528.87 290.36 L529.45 290.37 L530.02 290.37 L530.60 290.37 L531.18 290.37 L531.76 290.37 L532.34 290.38 L532.92 290.38 L533.50 290.38 L534.08 290.38 L534.66 290.38 L535.24 290.38 L535.82 290.39 L536.40 290.39 L536.98 290.39 L537.56 290.39 L538.14 290.39 L538.72 290.39 L539.30 290.39 L539.88 290.39 L540.46 290.39 L541.03 290.39 L541.61 290.39 L542.19 290.39 L542.77 290.39 L543.35 290.39 L543.93 290.40 L544.51 290.40 L545.09 290.40 L545.67 290.40 L546.25 290.40 L546.83 290.40 L547.41 290.40 L547.99 290.40 L548.57 290.40 L549.15 290.40 L549.73 290.40 L550.31 290.40 L550.89 290.40 L551.47 290.40 L552.05 290.40 L552.62 290.40 L553.20 290.40 L553.78 290.40 L554.36 290.40 L554.94 290.40 L555.52 290.40 L556.10 290.40 L556.68 290.40 L557.26 290.40 L557.84 290.40 L558.42 290.40 L559.00 290.40 L559.58 290.40 L560.16 290.40 L560.74 290.40 L561.32 290.40 L561.90 290.40 L562.48 290.40 L563.06 290.40 L563.64 290.40 L564.22 290.40 L564.79 290.40 L565.37 290.40 L565.95 290.40 L566.53 290.40 L567.11 290.40 L567.69 290.40 L568.27 290.40 L568.85 290.40 L569.43 290.40 L570.01 290.40 L570.59 290.40 L571.17 290.40 L571.75 290.40 L572.33 290.40 L572.91 290.40 L573.49 290.40 L574.07 290.40 L574.65 290.40 L575.23 290.40 L575.81 290.40 L576.38 290.40 L576.96 290.40 L577.54 290.40 L578.12 290.40 L578.70 290.40 L579.28 290.40 L579.86 290.40 L580.44 290.40 L581.02 290.40 L581.60 290.40 L582.90 290.40" stroke="#00f" stroke-width="2.6" stroke-dasharray="4.4 3.9"/>
<path d="M116.70 290.40 L118.00 290.40 L118.58 290.40 L119.16 290.40 L119.74 290.40 L120.32 290.40 L120.90 290.40 L121.48 290.40 L122.06 290.40 L122.64 290.40 L123.22 290.40 L123.80 290.40 L124.37 290.40 L124.95 290.40 L125.53 290.40 L126.11 290.40 L126.69 290.40 L127.27 290.40 L127.85 290.40 L128.43 290.40 L129.01 290.40 L129.59 290.40 L130.17 290.40 L130.75 290.40 L131.33 290.40 L131.91 290.40 L132.49 290.40 L133.07 290.40 L133.65 290.40 L134.23 290.40 L134.81 290.40 L135.39 290.40 L135.96 290.40 L136.54 290.40 L137.12 290.40 L137.70 290.40 L138.28 290.40 L138.86 290.40 L139.44 290.40 L140.02 290.40 L140.60 290.40 L141.18 290.40 L141.76 290.40 L142.34 290.40 L142.92 290.40 L143.50 290.40 L144.08 290.40 L144.66 290.40 L145.24 290.40 L145.82 290.40 L146.40 290.40 L146.98 290.40 L147.55 290.40 L148.13 290.40 L148.71 290.40 L149.29 290.40 L149.87 290.40 L150.45 290.40 L151.03 290.40 L151.61 290.40 L152.19 290.40 L152.77 290.40 L153.35 290.40 L153.93 290.40 L154.51 290.40 L155.09 290.40 L155.67 290.40 L156.25 290.40 L156.83 290.40 L157.41 290.40 L157.99 290.40 L158.57 290.39 L159.14 290.39 L159.72 290.39 L160.30 290.39 L160.88 290.39 L161.46 290.39 L162.04 290.39 L162.62 290.39 L163.20 290.39 L163.78 290.39 L164.36 290.39 L164.94 290.39 L165.52 290.39 L166.10 290.39 L166.68 290.39 L167.26 290.39 L167.84 290.38 L168.42 290.38 L169.00 290.38 L169.58 290.38 L170.16 290.38 L170.73 290.38 L171.31 290.38 L171.89 290.37 L172.47 290.37 L173.05 290.37 L173.63 290.37 L174.21 290.37 L174.79 290.36 L175.37 290.36 L175.95 290.36 L176.53 290.36 L177.11 290.35 L177.69 290.35 L178.27 290.35 L178.85 290.34 L179.43 290.34 L180.01 290.34 L180.59 290.33 L181.17 290.33 L181.75 290.32 L182.32 290.32 L182.90 290.31 L183.48 290.30 L184.06 290.30 L184.64 290.29 L185.22 290.28 L185.80 290.28 L186.38 290.27 L186.96 290.26 L187.54 290.25 L188.12 290.24 L188.70 290.23 L189.28 290.21 L189.86 290.20 L190.44 290.19 L191.02 290.17 L191.60 290.16 L192.18 290.14 L192.76 290.12 L193.34 290.11 L193.91 290.09 L194.49 290.07 L195.07 290.04 L195.65 290.02 L196.23 289.99 L196.81 289.97 L197.39 289.94 L197.97 289.91 L198.55 289.87 L199.13 289.84 L199.71 289.80 L200.29 289.76 L200.87 289.72 L201.45 289.67 L202.03 289.62 L202.61 289.57 L203.19 289.52 L203.77 289.46 L204.35 289.40 L204.93 289.33 L205.50 289.26 L206.08 289.19 L206.66 289.11 L207.24 289.03 L207.82 288.94 L208.40 288.85 L208.98 288.75 L209.56 288.64 L210.14 288.53 L210.72 288.41 L211.30 288.28 L211.88 288.15 L212.46 288.00 L213.04 287.85 L213.62 287.69 L214.20 287.53 L214.78 287.35 L215.36 287.16 L215.94 286.96 L216.52 286.75 L217.09 286.52 L217.67 286.29 L218.25 286.04 L218.83 285.78 L219.41 285.50 L219.99 285.20 L220.57 284.90 L221.15 284.57 L221.73 284.23 L222.31 283.87 L222.89 283.48 L223.47 283.08 L224.05 282.66 L224.63 282.22 L225.21 281.76 L225.79 281.27 L226.37 280.76 L226.95 280.22 L227.53 279.66 L228.11 279.06 L228.68 278.45 L229.26 277.80 L229.84 277.12 L230.42 276.41 L231.00 275.67 L231.58 274.90 L232.16 274.09 L232.74 273.25 L233.32 272.38 L233.90 271.46 L234.48 270.51 L235.06 269.53 L235.64 268.50 L236.22 267.43 L236.80 266.32 L237.38 265.17 L237.96 263.98 L238.54 262.74 L239.12 261.47 L239.69 260.14 L240.27 258.78 L240.85 257.37 L241.43 255.91 L242.01 254.41 L242.59 252.86 L243.17 251.26 L243.75 249.62 L244.33 247.93 L244.91 246.20 L245.49 244.42 L246.07 242.60 L246.65 240.73 L247.23 238.82 L247.81 236.86 L248.39 234.86 L248.97 232.81 L249.55 230.72 L250.13 228.59 L250.71 226.43 L251.29 224.22 L251.86 221.97 L252.44 219.69 L253.02 217.37 L253.60 215.02 L254.18 212.63 L254.76 210.21 L255.34 207.77 L255.92 205.29 L256.50 202.79 L257.08 200.27 L257.66 197.72 L258.24 195.15 L258.82 192.56 L259.40 189.96 L259.98 187.33 L260.56 184.70 L261.14 182.06 L261.72 179.40 L262.30 176.74 L262.88 174.07 L263.45 171.40 L264.03 168.73 L264.61 166.06 L265.19 163.39 L265.77 160.73 L266.35 158.07 L266.93 155.42 L267.51 152.78 L268.09 150.15 L268.67 147.54 L269.25 144.94 L269.83 142.36 L270.41 139.79 L270.99 137.24 L271.57 134.72 L272.15 132.21 L272.73 129.73 L273.31 127.28 L273.89 124.85 L274.47 122.45 L275.04 120.07 L275.62 117.73 L276.20 115.41 L276.78 113.13 L277.36 110.87 L277.94 108.65 L278.52 106.46 L279.10 104.30 L279.68 102.18 L280.26 100.09 L280.84 98.04 L281.42 96.02 L282.00 94.03 L282.58 92.08 L283.16 90.17 L283.74 88.29 L284.32 86.45 L284.90 84.64 L285.48 82.87 L286.06 81.13 L286.63 79.43 L287.21 77.77 L287.79 76.14 L288.37 74.54 L288.95 72.98 L289.53 71.46 L290.11 69.96 L290.69 68.51 L291.27 67.08 L291.85 65.69 L292.43 64.33 L293.01 63.00 L293.59 61.71 L294.17 60.44 L294.75 59.21 L295.33 58.01 L295.91 56.84 L296.49 55.70 L297.07 54.58 L297.64 53.50 L298.22 52.44 L298.80 51.41 L299.38 50.41 L299.96 49.43 L300.54 48.48 L301.12 47.56 L301.70 46.66 L302.28 45.79 L302.86 44.94 L303.44 44.11 L304.02 43.31 L304.60 42.52 L305.18 41.76 L305.76 41.03 L306.34 40.31 L306.92 39.61 L307.50 38.94 L308.08 38.28 L308.66 37.64 L309.24 37.02 L309.81 36.42 L310.39 35.84 L310.97 35.27 L311.55 34.72 L312.13 34.19 L312.71 33.68 L313.29 33.17 L313.87 32.69 L314.45 32.22 L315.03 31.76 L315.61 31.32 L316.19 30.89 L316.77 30.48 L317.35 30.08 L317.93 29.69 L318.51 29.31 L319.09 28.95 L319.67 28.59 L320.25 28.25 L320.82 27.92 L321.40 27.60 L321.98 27.29 L322.56 27.00 L323.14 26.71 L323.72 26.43 L324.30 26.16 L324.88 25.90 L325.46 25.65 L326.04 25.41 L326.62 25.18 L327.20 24.95 L327.78 24.73 L328.36 24.53 L328.94 24.32 L329.52 24.13 L330.10 23.95 L330.68 23.77 L331.26 23.60 L331.84 23.43 L332.42 23.27 L332.99 23.12 L333.57 22.98 L334.15 22.84 L334.73 22.71 L335.31 22.58 L335.89 22.46 L336.47 22.34 L337.05 22.23 L337.63 22.13 L338.21 22.03 L338.79 21.94 L339.37 21.85 L339.95 21.77 L340.53 21.69 L341.11 21.62 L341.69 21.55 L342.27 21.49 L342.85 21.44 L343.43 21.38 L344.00 21.33 L344.58 21.29 L345.16 21.25 L345.74 21.22 L346.32 21.19 L346.90 21.17 L347.48 21.15 L348.06 21.13 L348.64 21.12 L349.22 21.11 L349.80 21.11 L350.38 21.11 L350.96 21.12 L351.54 21.13 L352.12 21.15 L352.70 21.17 L353.28 21.19 L353.86 21.22 L354.44 21.25 L355.02 21.29 L355.60 21.33 L356.17 21.38 L356.75 21.44 L357.33 21.49 L357.91 21.55 L358.49 21.62 L359.07 21.69 L359.65 21.77 L360.23 21.85 L360.81 21.94 L361.39 22.03 L361.97 22.13 L362.55 22.23 L363.13 22.34 L363.71 22.46 L364.29 22.58 L364.87 22.71 L365.45 22.84 L366.03 22.98 L366.61 23.12 L367.19 23.27 L367.76 23.43 L368.34 23.60 L368.92 23.77 L369.50 23.95 L370.08 24.13 L370.66 24.32 L371.24 24.53 L371.82 24.73 L372.40 24.95 L372.98 25.18 L373.56 25.41 L374.14 25.65 L374.72 25.90 L375.30 26.16 L375.88 26.43 L376.46 26.71 L377.04 27.00 L377.62 27.29 L378.20 27.60 L378.78 27.92 L379.35 28.25 L379.93 28.59 L380.51 28.95 L381.09 29.31 L381.67 29.69 L382.25 30.08 L382.83 30.48 L383.41 30.89 L383.99 31.32 L384.57 31.76 L385.15 32.22 L385.73 32.69 L386.31 33.17 L386.89 33.68 L387.47 34.19 L388.05 34.72 L388.63 35.27 L389.21 35.84 L389.79 36.42 L390.37 37.02 L390.94 37.64 L391.52 38.28 L392.10 38.94 L392.68 39.61 L393.26 40.31 L393.84 41.03 L394.42 41.76 L395.00 42.52 L395.58 43.31 L396.16 44.11 L396.74 44.94 L397.32 45.79 L397.90 46.66 L398.48 47.56 L399.06 48.48 L399.64 49.43 L400.22 50.41 L400.80 51.41 L401.38 52.44 L401.96 53.50 L402.53 54.58 L403.11 55.70 L403.69 56.84 L404.27 58.01 L404.85 59.21 L405.43 60.44 L406.01 61.71 L406.59 63.00 L407.17 64.33 L407.75 65.69 L408.33 67.08 L408.91 68.51 L409.49 69.96 L410.07 71.46 L410.65 72.98 L411.23 74.54 L411.81 76.14 L412.39 77.77 L412.97 79.43 L413.55 81.13 L414.12 82.87 L414.70 84.64 L415.28 86.45 L415.86 88.29 L416.44 90.17 L417.02 92.08 L417.60 94.03 L418.18 96.02 L418.76 98.04 L419.34 100.09 L419.92 102.18 L420.50 104.30 L421.08 106.46 L421.66 108.65 L422.24 110.87 L422.82 113.13 L423.40 115.41 L423.98 117.73 L424.56 120.07 L425.13 122.45 L425.71 124.85 L426.29 127.28 L426.87 129.73 L427.45 132.21 L428.03 134.72 L428.61 137.24 L429.19 139.79 L429.77 142.36 L430.35 144.94 L430.93 147.54 L431.51 150.15 L432.09 152.78 L432.67 155.42 L433.25 158.07 L433.83 160.73 L434.41 163.39 L434.99 166.06 L435.57 168.73 L436.15 171.40 L436.73 174.07 L437.30 176.74 L437.88 179.40 L438.46 182.06 L439.04 184.70 L439.62 187.33 L440.20 189.96 L440.78 192.56 L441.36 195.15 L441.94 197.72 L442.52 200.27 L443.10 202.79 L443.68 205.29 L444.26 207.77 L444.84 210.21 L445.42 212.63 L446.00 215.02 L446.58 217.37 L447.16 219.69 L447.74 221.97 L448.31 224.22 L448.89 226.43 L449.47 228.59 L450.05 230.72 L450.63 232.81 L451.21 234.86 L451.79 236.86 L452.37 238.82 L452.95 240.73 L453.53 242.60 L454.11 244.42 L454.69 246.20 L455.27 247.93 L455.85 249.62 L456.43 251.26 L457.01 252.86 L457.59 254.41 L458.17 255.91 L458.75 257.37 L459.33 258.78 L459.91 260.14 L460.48 261.47 L461.06 262.74 L461.64 263.98 L462.22 265.17 L462.80 266.32 L463.38 267.43 L463.96 268.50 L464.54 269.53 L465.12 270.51 L465.70 271.46 L466.28 272.38 L466.86 273.25 L467.44 274.09 L468.02 274.90 L468.60 275.67 L469.18 276.41 L469.76 277.12 L470.34 277.80 L470.92 278.45 L471.50 279.06 L472.07 279.66 L472.65 280.22 L473.23 280.76 L473.81 281.27 L474.39 281.76 L474.97 282.22 L475.55 282.66 L476.13 283.08 L476.71 283.48 L477.29 283.87 L477.87 284.23 L478.45 284.57 L479.03 284.90 L479.61 285.20 L480.19 285.50 L480.77 285.78 L481.35 286.04 L481.93 286.29 L482.51 286.52 L483.09 286.75 L483.66 286.96 L484.24 287.16 L484.82 287.35 L485.40 287.53 L485.98 287.69 L486.56 287.85 L487.14 288.00 L487.72 288.15 L488.30 288.28 L488.88 288.41 L489.46 288.53 L490.04 288.64 L490.62 288.75 L491.20 288.85 L491.78 288.94 L492.36 289.03 L492.94 289.11 L493.52 289.19 L494.10 289.26 L494.68 289.33 L495.25 289.40 L495.83 289.46 L496.41 289.52 L496.99 289.57 L497.57 289.62 L498.15 289.67 L498.73 289.72 L499.31 289.76 L499.89 289.80 L500.47 289.84 L501.05 289.87 L501.63 289.91 L502.21 289.94 L502.79 289.97 L503.37 289.99 L503.95 290.02 L504.53 290.04 L505.11 290.07 L505.69 290.09 L506.26 290.11 L506.84 290.12 L507.42 290.14 L508.00 290.16 L508.58 290.17 L509.16 290.19 L509.74 290.20 L510.32 290.21 L510.90 290.23 L511.48 290.24 L512.06 290.25 L512.64 290.26 L513.22 290.27 L513.80 290.28 L514.38 290.28 L514.96 290.29 L515.54 290.30 L516.12 290.30 L516.70 290.31 L517.28 290.32 L517.86 290.32 L518.43 290.33 L519.01 290.33 L519.59 290.34 L520.17 290.34 L520.75 290.34 L521.33 290.35 L521.91 290.35 L522.49 290.35 L523.07 290.36 L523.65 290.36 L524.23 290.36 L524.81 290.36 L525.39 290.37 L525.97 290.37 L526.55 290.37 L527.13 290.37 L527.71 290.37 L528.29 290.38 L528.87 290.38 L529.45 290.38 L530.02 290.38 L530.60 290.38 L531.18 290.38 L531.76 290.38 L532.34 290.39 L532.92 290.39 L533.50 290.39 L534.08 290.39 L534.66 290.39 L535.24 290.39 L535.82 290.39 L536.40 290.39 L536.98 290.39 L537.56 290.39 L538.14 290.39 L538.72 290.39 L539.30 290.39 L539.88 290.39 L540.46 290.39 L541.03 290.39 L541.61 290.40 L542.19 290.40 L542.77 290.40 L543.35 290.40 L543.93 290.40 L544.51 290.40 L545.09 290.40 L545.67 290.40 L546.25 290.40 L546.83 290.40 L547.41 290.40 L547.99 290.40 L548.57 290.40 L549.15 290.40 L549.73 290.40 L550.31 290.40 L550.89 290.40 L551.47 290.40 L552.05 290.40 L552.62 290.40 L553.20 290.40 L553.78 290.40 L554.36 290.40 L554.94 290.40 L555.52 290.40 L556.10 290.40 L556.68 290.40 L557.26 290.40 L557.84 290.40 L558.42 290.40 L559.00 290.40 L559.58 290.40 L560.16 290.40 L560.74 290.40 L561.32 290.40 L561.90 290.40 L562.48 290.40 L563.06 290.40 L563.64 290.40 L564.22 290.40 L564.79 290.40 L565.37 290.40 L565.95 290.40 L566.53 290.40 L567.11 290.40 L567.69 290.40 L568.27 290.40 L568.85 290.40 L569.43 290.40 L570.01 290.40 L570.59 290.40 L571.17 290.40 L571.75 290.40 L572.33 290.40 L572.91 290.40 L573.49 290.40 L574.07 290.40 L574.65 290.40 L575.23 290.40 L575.81 290.40 L576.38 290.40 L576.96 290.40 L577.54 290.40 L578.12 290.40 L578.70 290.40 L579.28 290.40 L579.86 290.40 L580.44 290.40 L581.02 290.40 L581.60 290.40 L582.90 290.40" stroke="#000" stroke-width="2.6" stroke-dasharray="4.4 3.9"/>
</g>
<path d="M117.70 7.20 v4.4 M140.88 7.20 v2.7 M164.06 7.20 v2.7 M187.24 7.20 v2.7 M210.42 7.20 v2.7 M233.60 7.20 v4.4 M256.78 7.20 v2.7 M279.96 7.20 v2.7 M303.14 7.20 v2.7 M326.32 7.20 v2.7 M349.50 7.20 v4.4 M372.68 7.20 v2.7 M395.86 7.20 v2.7 M419.04 7.20 v2.7 M442.22 7.20 v2.7 M465.40 7.20 v4.4 M488.58 7.20 v2.7 M511.76 7.20 v2.7 M534.94 7.20 v2.7 M558.12 7.20 v2.7 M581.30 7.20 v4.4 M590.50 290.40 h-4.4 M590.50 271.57 h-2.7 M590.50 252.74 h-2.7 M590.50 233.91 h-2.7 M590.50 215.08 h-4.4 M590.50 196.25 h-2.7 M590.50 177.42 h-2.7 M590.50 158.59 h-2.7 M590.50 139.76 h-4.4 M590.50 120.93 h-2.7 M590.50 102.10 h-2.7 M590.50 83.27 h-2.7 M590.50 64.44 h-4.4 M590.50 45.61 h-2.7 M590.50 26.78 h-2.7 M590.50 7.95 h-2.7" stroke="#333" stroke-width="0.5" fill="none"/>
<path d="M118.00 304.15 V299.40 M233.90 304.15 V299.40 M349.80 304.15 V299.40 M465.70 304.15 V299.40 M581.60 304.15 V299.40 M109.20 290.40 H113.90 M109.20 252.74 H113.90 M109.20 215.08 H113.90 M109.20 177.42 H113.90 M109.20 139.76 H113.90 M109.20 102.10 H113.90 M109.20 64.44 H113.90 M109.20 26.78 H113.90" stroke="#000" stroke-width="2" fill="none"/>
<path d="M141.18 304.15 V302.10 M164.36 304.15 V302.10 M187.54 304.15 V302.10 M210.72 304.15 V302.10 M257.08 304.15 V302.10 M280.26 304.15 V302.10 M303.44 304.15 V302.10 M326.62 304.15 V302.10 M372.98 304.15 V302.10 M396.16 304.15 V302.10 M419.34 304.15 V302.10 M442.52 304.15 V302.10 M488.88 304.15 V302.10 M512.06 304.15 V302.10 M535.24 304.15 V302.10 M558.42 304.15 V302.10 M109.20 297.93 H111.90 M109.20 282.87 H111.90 M109.20 275.34 H111.90 M109.20 267.80 H111.90 M109.20 260.27 H111.90 M109.20 245.21 H111.90 M109.20 237.68 H111.90 M109.20 230.14 H111.90 M109.20 222.61 H111.90 M109.20 207.55 H111.90 M109.20 200.02 H111.90 M109.20 192.48 H111.90 M109.20 184.95 H111.90 M109.20 169.89 H111.90 M109.20 162.36 H111.90 M109.20 154.82 H111.90 M109.20 147.29 H111.90 M109.20 132.23 H111.90 M109.20 124.70 H111.90 M109.20 117.16 H111.90 M109.20 109.63 H111.90 M109.20 94.57 H111.90 M109.20 87.04 H111.90 M109.20 79.50 H111.90 M109.20 71.97 H111.90 M109.20 56.91 H111.90 M109.20 49.38 H111.90 M109.20 41.84 H111.90 M109.20 34.31 H111.90 M109.20 19.25 H111.90 M109.20 11.72 H111.90" stroke="#000" stroke-width="1.7" fill="none"/>
<rect x="108.30" y="6.30" width="483.10" height="298.75" fill="none" stroke="#000" stroke-width="1.95"/>
<g opacity="0.999">
<g transform="translate(102.90,301.70) scale(1.000,1.040)"><text x="-58.389">0.00</text></g>
<g transform="translate(102.90,264.04) scale(1.000,1.040)"><text x="-58.389">0.0<tspan dx="1.30">1</tspan></text><rect x="-14.185" y="-3.3" width="6.344" height="4.0" fill="#fff"/><rect x="-5.189" y="-3.3" width="6.200" height="4.0" fill="#fff"/></g>
<g transform="translate(102.90,226.38) scale(1.000,1.040)"><text x="-58.389">0.02</text></g>
<g transform="translate(102.90,188.72) scale(1.000,1.040)"><text x="-58.389">0.03</text></g>
<g transform="translate(102.90,151.06) scale(1.000,1.040)"><text x="-58.389">0.04</text></g>
<g transform="translate(102.90,113.40) scale(1.000,1.040)"><text x="-58.389">0.05</text></g>
<g transform="translate(102.90,75.74) scale(1.000,1.040)"><text x="-58.389">0.06</text></g>
<g transform="translate(102.90,38.08) scale(1.000,1.040)"><text x="-58.389">0.07</text></g>
<text transform="translate(92.10,343.2) scale(0.95,1.2)">−</text>
<g transform="translate(111.40,339.00) scale(0.980,1.040)"><text x="0.000">20</text></g>
<text transform="translate(208.00,343.2) scale(0.95,1.2)">−</text>
<g transform="translate(227.30,339.00) scale(0.980,1.040)"><text x="0.000"><tspan dx="0.60">1</tspan>0</text><rect x="1.800" y="-3.3" width="6.344" height="4.0" fill="#fff"/><rect x="10.795" y="-3.3" width="6.200" height="4.0" fill="#fff"/></g>
<g transform="translate(349.60,339.00) scale(0.980,1.040)"><text x="-8.342">0</text></g>
<g transform="translate(465.50,339.00) scale(0.980,1.040)"><text x="-16.685"><tspan dx="0.60">1</tspan>0</text><rect x="-14.885" y="-3.3" width="6.344" height="4.0" fill="#fff"/><rect x="-5.889" y="-3.3" width="6.200" height="4.0" fill="#fff"/></g>
<g transform="translate(581.40,339.00) scale(0.980,1.040)"><text x="-16.685">20</text></g>
<text x="349.8" y="383.8" text-anchor="middle">x</text>
<text transform="translate(28.5,153.5) rotate(-90)" text-anchor="middle" font-style="italic">ρ</text>
</g>
</svg>
</body></html>
